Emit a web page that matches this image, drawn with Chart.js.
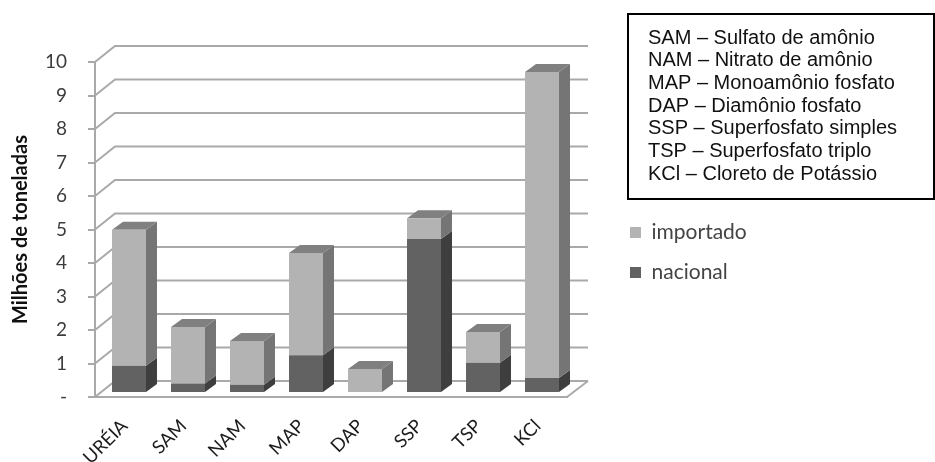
<!DOCTYPE html>
<html lang="pt">
<head>
<meta charset="utf-8">
<title>Fertilizantes: importado e nacional</title>
<script src="https://cdn.jsdelivr.net/npm/chart.js@4"></script>
<style>
  html, body { margin: 0; padding: 0; background: #fff; }
  canvas { display: block; }
</style>
</head>
<body>
<canvas id="chart" width="935" height="462"></canvas>
<script>
// Fertilizer supply in millions of tonnes, split by origin.
const categories = ['URÉIA', 'SAM', 'NAM', 'MAP', 'DAP', 'SSP', 'TSP', 'KCl'];
const nacional = [0.81, 0.28, 0.25, 1.13, 0, 4.60, 0.90, 0.45];
const importado = [4.06, 1.69, 1.30, 3.05, 0.72, 0.62, 0.92, 9.13];
const glossary = [
  'SAM – Sulfato de amônio',
  'NAM – Nitrato de amônio',
  'MAP – Monoamônio fosfato',
  'DAP – Diamônio fosfato',
  'SSP – Superfosfato simples',
  'TSP – Superfosfato triplo',
  'KCl – Cloreto de Potássio'
];

const LINE = '#a9a9a9';
const TEXT = '#3c3c3c';
const SHADES = {
  nacional: { front: '#626262', side: '#3e3e3e', top: '#4c4c4c' },
  importado: { front: '#b3b3b3', side: '#757575', top: '#808080' }
};

// Perspective offsets of the pseudo-3D box.
const WALL = { dx: 20, dy: 16, rightEdge: 588 };
const BAR_SHIFT = { dx: 4.5, dy: -4 };
const BAR_DEPTH = { dx: 11, dy: 8 };

function poly(ctx, pts, fill) {
  ctx.beginPath();
  pts.forEach((p, i) => (i ? ctx.lineTo(p[0], p[1]) : ctx.moveTo(p[0], p[1])));
  ctx.closePath();
  ctx.fillStyle = fill;
  ctx.fill();
}

// Back wall gridlines plus the floor outline.
function drawWalls(chart) {
  const { ctx, chartArea: area, scales: { y } } = chart;
  ctx.save();
  ctx.strokeStyle = LINE;
  ctx.lineWidth = 2;
  y.ticks.forEach(t => {
    const py = y.getPixelForValue(t.value);
    ctx.beginPath();
    ctx.moveTo(area.left, py);
    ctx.lineTo(area.left + WALL.dx, py - WALL.dy);
    ctx.lineTo(WALL.rightEdge, py - WALL.dy);
    ctx.stroke();
  });
  const floor = y.getPixelForValue(0);
  ctx.beginPath();
  ctx.moveTo(area.right, floor);
  ctx.lineTo(WALL.rightEdge, floor - WALL.dy);
  ctx.stroke();
  ctx.restore();
}

// Side and top faces of every stacked bar, taken from the bar elements.
function drawBarFaces(chart) {
  const { ctx } = chart;
  const { dx, dy } = BAR_DEPTH;
  const metas = chart.getSortedVisibleDatasetMetas();
  metas.forEach((meta, m) => {
    const shade = chart.data.datasets[meta.index].shades;
    meta.data.forEach((bar, i) => {
      const r = bar.x + bar.width / 2;
      const l = bar.x - bar.width / 2;
      if (Math.abs(bar.base - bar.y) < 0.5) return;
      poly(ctx, [[r, bar.base], [r + dx, bar.base - dy], [r + dx, bar.y - dy], [r, bar.y]], shade.side);
      const above = metas.slice(m + 1).some(o => chart.data.datasets[o.index].data[i] > 0);
      if (!above) {
        poly(ctx, [[l, bar.y], [l + dx, bar.y - dy], [r + dx, bar.y - dy], [r, bar.y]], shade.top);
      }
    });
  });
}

const boxPlugin = {
  id: 'box3d',
  afterInit(chart) {
    // The legend reserves the whole right-hand column beside the plot.
    const fit = chart.legend.fit;
    chart.legend.fit = function () {
      fit.call(this);
      this.width = 368;
    };
  },
  afterLayout(chart) {
    const lg = chart.legend;
    lg.left = 611;
    lg.right = 935;
    lg.top = 203;
  },
  beforeDatasetsDraw(chart) {
    drawWalls(chart);
    chart.ctx.save();
    chart.ctx.translate(BAR_SHIFT.dx, BAR_SHIFT.dy);
    drawBarFaces(chart);
  },
  afterDatasetsDraw(chart) {
    chart.ctx.restore();
  },
  afterDraw(chart) {
    // Abbreviation key in its framed box.
    const { ctx } = chart;
    ctx.save();
    ctx.strokeStyle = '#000';
    ctx.lineWidth = 2;
    ctx.strokeRect(628, 14, 306, 185);
    ctx.fillStyle = '#111';
    ctx.font = '20px "Liberation Sans", Arial, sans-serif';
    ctx.textBaseline = 'middle';
    glossary.forEach((line, i) => ctx.fillText(line, 648, 38 + i * 22.7));
    ctx.restore();
  }
};

new Chart(document.getElementById('chart'), {
  type: 'bar',
  plugins: [boxPlugin],
  data: {
    labels: categories,
    datasets: [
      { label: 'nacional', data: nacional, backgroundColor: SHADES.nacional.front, shades: SHADES.nacional,
        categoryPercentage: 1, barPercentage: 0.576 },
      { label: 'importado', data: importado, backgroundColor: SHADES.importado.front, shades: SHADES.importado,
        categoryPercentage: 1, barPercentage: 0.576 }
    ]
  },
  options: {
    responsive: false,
    animation: false,
    layout: { padding: { top: 62, right: 0, bottom: 0, left: 0 } },
    plugins: {
      tooltip: { enabled: false },
      legend: {
        position: 'right',
        align: 'start',
        reverse: true,
        labels: {
          boxWidth: 11, boxHeight: 11, padding: 19,
          color: '#444',
          font: { family: 'Lato', size: 21 }
        }
      }
    },
    scales: {
      x: {
        stacked: true,
        grid: { display: false, drawTicks: false },
        border: { color: LINE, width: 2 },
        afterFit(s) { s.height = 65; },
        ticks: {
          minRotation: 45, maxRotation: 45, padding: 18,
          color: '#1c1c1c',
          font: { family: 'Lato', size: 18.5 }
        }
      },
      y: {
        stacked: true,
        min: 0, max: 10,
        afterFit(s) { s.width = 95; },
        grid: { drawOnChartArea: false, tickLength: 7, color: LINE, lineWidth: 2 },
        border: { color: LINE, width: 2 },
        title: {
          display: true,
          text: 'Milhões de toneladas',
          color: '#111',
          padding: { top: 9, bottom: 0 },
          font: { family: 'Lato', size: 20, weight: 'bold' }
        },
        ticks: {
          stepSize: 1, padding: 21,
          color: TEXT,
          font: { family: 'Lato', size: 19 },
          callback: v => (v === 0 ? '-' : v)
        }
      }
    }
  }
});
</script>
</body>
</html>
